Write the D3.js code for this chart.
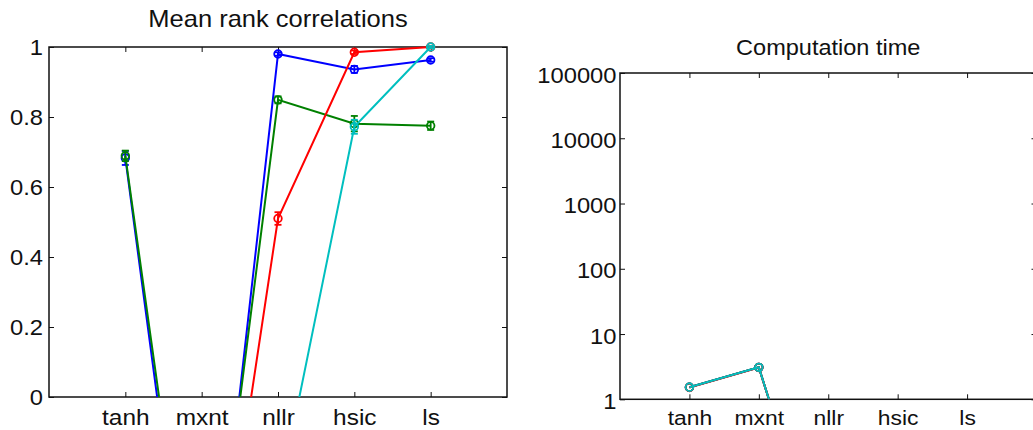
<!DOCTYPE html>
<html>
<head>
<meta charset="utf-8">
<script src="https://cdn.jsdelivr.net/npm/d3@7"></script>
<style>
  html, body { margin: 0; padding: 0; background: #fff; }
  svg { display: block; font-family: "Liberation Sans", Arial, Helvetica, sans-serif; }
</style>
</head>
<body>
<svg id="chart" width="1033" height="430"></svg>
<script>
// Methods compared along the x axis
const methods = ["tanh", "mxnt", "nllr", "hsic", "ls"];

// Mean rank correlation per method (null = no value)
const corrBlue  = [0.683, -0.955, 0.980, 0.936, 0.963];
const corrGreen = [0.689, -0.870, 0.849, 0.781, 0.775];
const corrRed   = [null, -0.940, 0.510, 0.985, 1.000];
const corrCyan  = [null, null, -0.300, 0.772, 1.000];

// Standard errors of the mean rank correlations
const errBlue  = [0.020, 0, 0.005, 0.010, 0.005];
const errGreen = [0.015, 0, 0.010, 0.022, 0.012];
const errRed   = [0, 0, 0.018, 0.005, 0.002];
const errCyan  = [0, 0, 0, 0.020, 0.003];

// Computation time per method (seconds, log axis)
const timeBlue  = [1.53, 3.09, 0.0013, null, null];
const timeGreen = [1.53, 3.09, 0.0013, null, null];
const timeRed   = [1.52, 3.07, 0.0013, null, null];
const timeCyan  = [1.53, 3.09, 0.0013, null, null];

// Axis tick values
const corrTicks = [0, 0.2, 0.4, 0.6, 0.8, 1];
const timeTicks = [1, 10, 100, 1000, 10000, 100000];

const colors = { blue: "#0000ff", green: "#008000", red: "#ff0000", cyan: "#00bfbf" };

const corrSeries = [
  { color: colors.blue,  values: corrBlue,  errs: errBlue },
  { color: colors.green, values: corrGreen, errs: errGreen },
  { color: colors.red,   values: corrRed,   errs: errRed },
  { color: colors.cyan,  values: corrCyan,  errs: errCyan }
];
const timeSeries = [
  { color: colors.blue,  values: timeBlue },
  { color: colors.green, values: timeGreen },
  { color: colors.red,   values: timeRed },
  { color: colors.cyan,  values: timeCyan }
];

const svg = d3.select("#chart");
const SX = 1.1;           // horizontal stretch of the lettering
const TICK = 5;           // inward tick length
const idx = d3.range(1, methods.length + 1);

function stretchText(sel, xPos) {
  sel.attr("x", xPos / SX).attr("transform", `scale(${SX},1)`);
}

function drawPanel(cfg) {
  const { left, right, top, bottom, y, yTicks, yFormat, title, titleY, titleSize,
          tickSize, catSize, catPad, yDy, yPad, id } = cfg;
  const x = d3.scaleLinear().domain([0, methods.length + 1]).range([left, right]);
  const g = svg.append("g");

  // frame
  g.append("rect")
    .attr("x", left).attr("y", top)
    .attr("width", right - left).attr("height", bottom - top)
    .attr("fill", "none").attr("stroke", "#111").attr("stroke-width", 1.5);

  // bottom axis with category names
  const xb = g.append("g").attr("transform", `translate(0,${bottom})`)
    .call(d3.axisBottom(x).tickValues(idx).tickFormat(i => methods[i - 1])
      .tickSizeInner(-TICK).tickSizeOuter(0).tickPadding(catPad));
  xb.select(".domain").remove();
  xb.selectAll("line").attr("stroke", "#111");
  xb.selectAll("text").attr("font-size", catSize).attr("fill", "#111")
    .attr("transform", `scale(${SX},1)`);

  // top mirror ticks
  const xt = g.append("g").attr("transform", `translate(0,${top})`)
    .call(d3.axisTop(x).tickValues(idx).tickFormat("").tickSizeInner(-TICK).tickSizeOuter(0));
  xt.select(".domain").remove();
  xt.selectAll("line").attr("stroke", "#111");

  // left axis with values
  const yl = g.append("g").attr("transform", `translate(${left},0)`)
    .call(d3.axisLeft(y).tickValues(yTicks).tickFormat(yFormat)
      .tickSizeInner(-TICK).tickSizeOuter(0).tickPadding(yPad));
  yl.select(".domain").remove();
  yl.selectAll("line").attr("stroke", "#111");
  yl.selectAll("text").attr("font-size", tickSize).attr("fill", "#111").attr("dy", yDy)
    .call(stretchText, -yPad);

  // right mirror ticks
  const yr = g.append("g").attr("transform", `translate(${right},0)`)
    .call(d3.axisRight(y).tickValues(yTicks).tickFormat("").tickSizeInner(-TICK).tickSizeOuter(0));
  yr.select(".domain").remove();
  yr.selectAll("line").attr("stroke", "#111");

  // title
  g.append("text")
    .attr("transform", `translate(${(left + right) / 2},${titleY}) scale(${SX},1)`)
    .attr("text-anchor", "middle").attr("font-size", titleSize).attr("fill", "#111")
    .text(title);

  // clip region: open a little above the box so markers on the top edge stay whole
  g.append("clipPath").attr("id", id)
    .append("rect")
    .attr("x", left - 10).attr("y", top - 10)
    .attr("width", right - left + 20).attr("height", bottom - top + 10);

  const plot = g.append("g").attr("clip-path", `url(#${id})`);
  return { x, plot };
}

// ---------- Mean rank correlations ----------
const yCorr = d3.scaleLinear().domain([0, 1]).range([397, 47]);
const p1 = drawPanel({
  id: "clipCorr", left: 49, right: 507, top: 47, bottom: 397, y: yCorr,
  yTicks: corrTicks, yFormat: d => d3.format("")(+d.toFixed(1)),
  title: "Mean rank correlations", titleY: 27, titleSize: 23.2,
  tickSize: 21.6, catSize: 22.2, catPad: 12.5, yDy: "0.36em", yPad: 6
});

corrSeries.forEach(s => {
  const pts = s.values.map((v, i) => ({ i: i + 1, v, e: s.errs[i] }));
  const line = d3.line().defined(d => d.v !== null)
    .x(d => p1.x(d.i)).y(d => yCorr(d.v));
  p1.plot.append("path").datum(pts)
    .attr("d", line).attr("fill", "none")
    .attr("stroke", s.color).attr("stroke-width", 2);

  const marks = pts.filter(d => d.v !== null);
  const eb = p1.plot.append("g").attr("stroke", s.color).attr("stroke-width", 1.8).attr("fill", "none");
  marks.filter(d => d.e > 0).forEach(d => {
    const cx = p1.x(d.i), y0 = yCorr(d.v - d.e), y1 = yCorr(d.v + d.e);
    eb.append("line").attr("x1", cx).attr("x2", cx).attr("y1", y0).attr("y2", y1);
    eb.append("line").attr("x1", cx - 3.5).attr("x2", cx + 3.5).attr("y1", y0).attr("y2", y0);
    eb.append("line").attr("x1", cx - 3.5).attr("x2", cx + 3.5).attr("y1", y1).attr("y2", y1);
  });
  eb.selectAll("circle.m").data(marks).join("circle").attr("class", "m")
    .attr("cx", d => p1.x(d.i)).attr("cy", d => yCorr(d.v)).attr("r", 3.8);
});

// ---------- Computation time ----------
const yTime = d3.scaleLog().domain([1, 100000]).range([399.3, 73]);
const p2 = drawPanel({
  id: "clipTime", left: 620, right: 1036.5, top: 73, bottom: 399.3, y: yTime,
  yTicks: timeTicks, yFormat: d3.format("d"),
  title: "Computation time", titleY: 55, titleSize: 21.4,
  tickSize: 21.6, catSize: 20.8, catPad: 11, yDy: "0.42em", yPad: 3.5
});

timeSeries.forEach(s => {
  const pts = s.values.map((v, i) => ({ i: i + 1, v }));
  const line = d3.line().defined(d => d.v !== null)
    .x(d => p2.x(d.i)).y(d => yTime(d.v));
  p2.plot.append("path").datum(pts)
    .attr("d", line).attr("fill", "none")
    .attr("stroke", s.color).attr("stroke-width", 2);
  const marks = pts.filter(d => d.v !== null && d.v >= 1);
  p2.plot.append("g").selectAll("circle").data(marks).join("circle")
    .attr("cx", d => p2.x(d.i)).attr("cy", d => yTime(d.v)).attr("r", 3.8)
    .attr("fill", "none").attr("stroke", s.color).attr("stroke-width", 1.8);
});
</script>
</body>
</html>
